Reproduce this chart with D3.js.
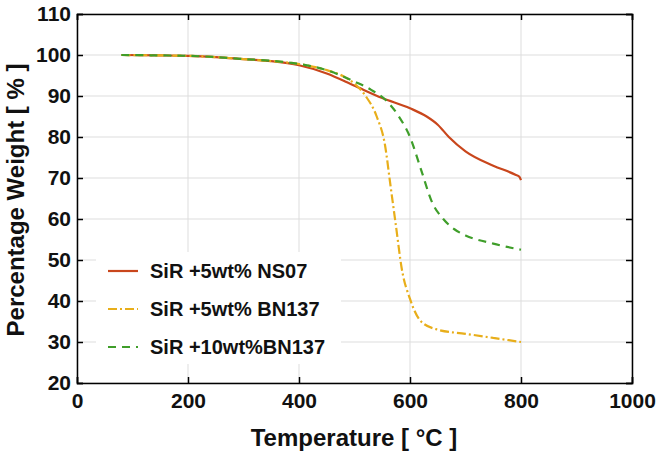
<!DOCTYPE html><html><head><script src="https://cdn.jsdelivr.net/npm/d3@7"></script>
<style>body{margin:0;background:#fff}svg{font-family:"Liberation Sans Narrow","Liberation Sans",Arial,sans-serif}</style></head><body><svg width="660" height="455"></svg><script>
const xTicks=[0,200,400,600,800,1000];
const yTicks=[20,30,40,50,60,70,80,90,100,110];
const seriesNames=["SiR +5wt% NS07","SiR +5wt% BN137","SiR +10wt%BN137"];
const ns07=[[80,100],[150,99.9],[200,99.8],[250,99.5],[300,99],[350,98.5],[400,97.5],[450,95.5],[500,92.5],[550,89.5],[600,87],[630,85],[650,83],[670,80],[700,76.5],[750,73],[790,70.8],[797,70.3],[800,69.5]];
const bn5=[[80,100],[150,99.9],[200,99.8],[250,99.5],[300,99],[350,98.5],[400,97.8],[450,96.3],[480,94.8],[500,93],[520,90],[540,85],[555,78],[565,68],[575,58],[585,48],[600,40.5],[620,35],[650,33],[700,32],[750,31],[800,30]];
const bn10=[[80,100],[150,99.9],[200,99.8],[250,99.5],[300,99],[350,98.6],[400,97.8],[450,96.3],[500,93.5],[530,91.5],[560,88.5],[580,85],[600,80],[620,72],[640,64],[660,60],[680,57.5],[700,56],[750,54],[800,52.5]];
const colors=["#c9461c","#e8ae1a","#3f9e2a"];
const dashes=[null,"9,3,2,3","8,6"];
const svg=d3.select("svg");
const x=d3.scaleLinear().domain([0,1000]).range([77,632]);
const y=d3.scaleLinear().domain([20,110]).range([383,14]);
const g=svg.append("g");
g.selectAll(".vx").data(xTicks).join("line").attr("x1",d=>x(d)).attr("x2",d=>x(d)).attr("y1",14).attr("y2",383).attr("stroke","#ddd");
g.selectAll(".hy").data(yTicks).join("line").attr("y1",d=>y(d)).attr("y2",d=>y(d)).attr("x1",77).attr("x2",632).attr("stroke","#ddd");
svg.append("g").attr("transform","translate(0,383)").call(d3.axisBottom(x).tickValues(xTicks).tickFormat(d3.format("d")).tickSize(-6).tickPadding(10));
svg.append("g").attr("transform","translate(77,0)").call(d3.axisLeft(y).tickValues(yTicks).tickSize(-6).tickPadding(6));
svg.append("g").attr("transform","translate(632,0)").call(d3.axisRight(y).tickValues(yTicks).tickSize(-6).tickFormat(""));
svg.append("g").attr("transform","translate(0,14)").call(d3.axisTop(x).tickValues(xTicks).tickSize(-6).tickFormat(""));
svg.selectAll(".domain").attr("stroke","#000").attr("stroke-width",1.5);
svg.selectAll(".tick line").attr("stroke","#000").attr("stroke-width",1.5);
svg.selectAll(".tick text").attr("font-size",21).attr("font-weight","bold").attr("fill","#111");
const line=d3.line().x(d=>x(d[0])).y(d=>y(d[1])).curve(d3.curveMonotoneX);
[ns07,bn5,bn10].forEach((s,i)=>svg.append("path").datum(s).attr("d",line).attr("fill","none").attr("stroke",colors[i]).attr("stroke-width",2.2).attr("stroke-dasharray",dashes[i]));
const lg=svg.append("g");
lg.append("rect").attr("x",96).attr("y",252).attr("width",245).attr("height",112).attr("fill","#fff");
seriesNames.forEach((n,i)=>{const yy=271+i*38;
lg.append("line").attr("x1",108).attr("x2",138).attr("y1",yy).attr("y2",yy).attr("stroke",colors[i]).attr("stroke-width",2.2).attr("stroke-dasharray",dashes[i]);
lg.append("text").attr("x",150).attr("y",yy+7).attr("font-size",20).attr("font-weight","bold").attr("fill","#111").text(n);});
svg.append("text").attr("x",354).attr("y",446).attr("text-anchor","middle").attr("font-size",24).attr("font-weight","bold").attr("fill","#111").text("Temperature [ °C ]");
svg.append("text").attr("transform","translate(24,200) rotate(-90)").attr("text-anchor","middle").attr("font-size",24).attr("font-weight","bold").attr("fill","#111").text("Percentage Weight [ % ]");
</script></body></html>
